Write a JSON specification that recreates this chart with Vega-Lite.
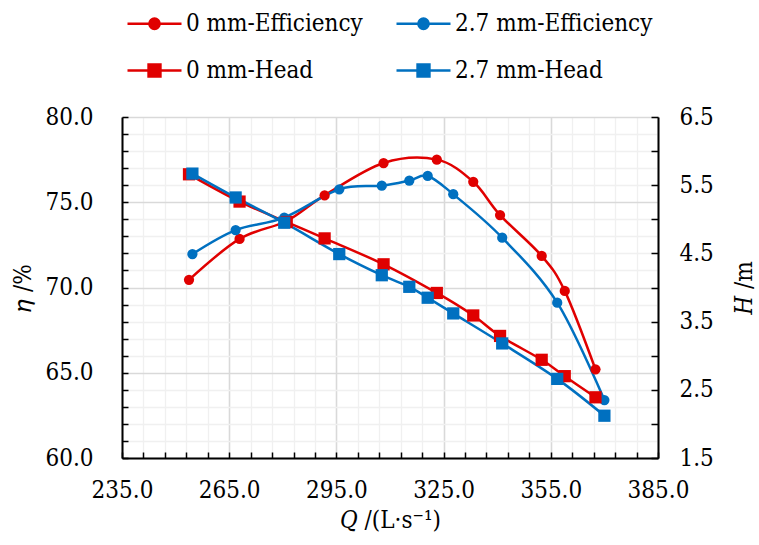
{
  "$schema": "https://vega.github.io/schema/vega-lite/v6.json",
  "autosize": "none",
  "width": 536,
  "height": 341,
  "padding": {"left": 122, "top": 117, "right": 101, "bottom": 87},
  "background": "white",
  "config": {
    "view": {"stroke": null},
    "font": "DejaVu Serif Condensed, DejaVu Serif",
    "axis": {
      "labelFont": "DejaVu Serif Condensed, DejaVu Serif",
      "labelFontSize": 24,
      "labelColor": "black",
      "titleFont": "DejaVu Serif Condensed, DejaVu Serif",
      "titleFontSize": 24,
      "titleFontWeight": "normal",
      "titleColor": "black",
      "domainColor": "black",
      "domainWidth": 2,
      "tickColor": "black",
      "tickWidth": 1.5
    }
  },
  "data": {
    "values": [
      {"Q": 253.75, "series": "0 mm-Efficiency", "kind": "Efficiency", "value": 70.45},
      {"Q": 267.9, "series": "0 mm-Efficiency", "kind": "Efficiency", "value": 72.85},
      {"Q": 281.1, "series": "0 mm-Efficiency", "kind": "Efficiency", "value": 73.9},
      {"Q": 291.7, "series": "0 mm-Efficiency", "kind": "Efficiency", "value": 75.4},
      {"Q": 308.2, "series": "0 mm-Efficiency", "kind": "Efficiency", "value": 77.3},
      {"Q": 323.1, "series": "0 mm-Efficiency", "kind": "Efficiency", "value": 77.5},
      {"Q": 333.3, "series": "0 mm-Efficiency", "kind": "Efficiency", "value": 76.2},
      {"Q": 340.8, "series": "0 mm-Efficiency", "kind": "Efficiency", "value": 74.25},
      {"Q": 352.45, "series": "0 mm-Efficiency", "kind": "Efficiency", "value": 71.85},
      {"Q": 358.9, "series": "0 mm-Efficiency", "kind": "Efficiency", "value": 69.8},
      {"Q": 367.5, "series": "0 mm-Efficiency", "kind": "Efficiency", "value": 65.2},
      {"Q": 254.7, "series": "2.7 mm-Efficiency", "kind": "Efficiency", "value": 71.96},
      {"Q": 266.8, "series": "2.7 mm-Efficiency", "kind": "Efficiency", "value": 73.37},
      {"Q": 280.4, "series": "2.7 mm-Efficiency", "kind": "Efficiency", "value": 74.1},
      {"Q": 295.8, "series": "2.7 mm-Efficiency", "kind": "Efficiency", "value": 75.76},
      {"Q": 307.7, "series": "2.7 mm-Efficiency", "kind": "Efficiency", "value": 75.97},
      {"Q": 315.4, "series": "2.7 mm-Efficiency", "kind": "Efficiency", "value": 76.27},
      {"Q": 320.55, "series": "2.7 mm-Efficiency", "kind": "Efficiency", "value": 76.54},
      {"Q": 327.7, "series": "2.7 mm-Efficiency", "kind": "Efficiency", "value": 75.47},
      {"Q": 341.4, "series": "2.7 mm-Efficiency", "kind": "Efficiency", "value": 72.92},
      {"Q": 356.8, "series": "2.7 mm-Efficiency", "kind": "Efficiency", "value": 69.11},
      {"Q": 370.0, "series": "2.7 mm-Efficiency", "kind": "Efficiency", "value": 63.4},
      {"Q": 253.75, "series": "0 mm-Head", "kind": "Head", "value": 5.66},
      {"Q": 267.9, "series": "0 mm-Head", "kind": "Head", "value": 5.26},
      {"Q": 281.1, "series": "0 mm-Head", "kind": "Head", "value": 4.96},
      {"Q": 291.7, "series": "0 mm-Head", "kind": "Head", "value": 4.72},
      {"Q": 308.2, "series": "0 mm-Head", "kind": "Head", "value": 4.34},
      {"Q": 323.1, "series": "0 mm-Head", "kind": "Head", "value": 3.92},
      {"Q": 333.3, "series": "0 mm-Head", "kind": "Head", "value": 3.59},
      {"Q": 340.8, "series": "0 mm-Head", "kind": "Head", "value": 3.29},
      {"Q": 352.45, "series": "0 mm-Head", "kind": "Head", "value": 2.94},
      {"Q": 358.9, "series": "0 mm-Head", "kind": "Head", "value": 2.70},
      {"Q": 367.5, "series": "0 mm-Head", "kind": "Head", "value": 2.39},
      {"Q": 254.7, "series": "2.7 mm-Head", "kind": "Head", "value": 5.67},
      {"Q": 266.8, "series": "2.7 mm-Head", "kind": "Head", "value": 5.32},
      {"Q": 280.4, "series": "2.7 mm-Head", "kind": "Head", "value": 4.95},
      {"Q": 295.8, "series": "2.7 mm-Head", "kind": "Head", "value": 4.49},
      {"Q": 307.7, "series": "2.7 mm-Head", "kind": "Head", "value": 4.18},
      {"Q": 315.4, "series": "2.7 mm-Head", "kind": "Head", "value": 4.01},
      {"Q": 320.55, "series": "2.7 mm-Head", "kind": "Head", "value": 3.85},
      {"Q": 327.7, "series": "2.7 mm-Head", "kind": "Head", "value": 3.62},
      {"Q": 341.4, "series": "2.7 mm-Head", "kind": "Head", "value": 3.18},
      {"Q": 356.8, "series": "2.7 mm-Head", "kind": "Head", "value": 2.66},
      {"Q": 370.0, "series": "2.7 mm-Head", "kind": "Head", "value": 2.12}
    ]
  },
  "encoding": {
    "x": {
      "field": "Q",
      "type": "quantitative",
      "scale": {"domain": [235, 385], "nice": false, "zero": false},
      "axis": {
        "title": "𝑄 /(L·s⁻¹)",
        "values": [235,241,247,253,259,265,271,277,283,289,295,301,307,313,319,325,331,337,343,349,355,361,367,373,379,385],
        "labelExpr": "(datum.value-235)%30===0 ? format(datum.value,'.1f') : ''",
        "grid": true,
        "gridColor": {"condition": {"test": "(datum.value-235)%30===0", "value": "#D9D9D9"}, "value": "#F0F0F0"},
        "gridWidth": {"condition": {"test": "(datum.value-235)%30===0", "value": 1.6}, "value": 1.3},
        "tickSize": -6,
        "labelPadding": 26,
        "labelFlush": false,
        "titlePadding": 6
      }
    },
    "color": {
      "field": "series",
      "type": "nominal",
      "scale": {
        "domain": ["0 mm-Efficiency", "2.7 mm-Efficiency", "0 mm-Head", "2.7 mm-Head"],
        "range": ["#E00000", "#0070C0", "#E00000", "#0070C0"]
      },
      "legend": {
        "orient": "none",
        "direction": "horizontal",
        "legendX": 4,
        "legendY": -122,
        "title": null,
        "columns": 2,
        "padding": 0,
        "labelFont": "DejaVu Serif Condensed, DejaVu Serif",
        "labelFontSize": 24,
        "labelColor": "black",
        "labelLimit": 0,
        "labelOffset": 3,
        "symbolSize": 2916,
        "symbolStrokeWidth": 2.5,
        "columnPadding": 28,
        "rowPadding": 6,
        "encode": {
          "symbols": {
            "update": {
              "shape": {"signal": "indexof(datum.value,'Head')>=0 ? 'M-1,0L1,0M-0.22,-0.22L0.22,-0.22L0.22,0.22L-0.22,0.22Z' : 'M-1,0L1,0M0.19,0A0.19,0.19,0,1,1,-0.19,0A0.19,0.19,0,1,1,0.19,0Z'"},
              "fill": {"scale": "color", "field": "value"},
              "stroke": {"scale": "color", "field": "value"},
              "strokeWidth": {"value": 2.5},
              "opacity": {"value": 1},
              "fillOpacity": {"value": 1},
              "strokeOpacity": {"value": 1}
            }
          }
        }
      }
    }
  },
  "layer": [
    {
      "transform": [{"filter": "datum.kind === 'Efficiency'"}],
      "encoding": {
        "y": {
          "field": "value",
          "type": "quantitative",
          "scale": {"domain": [60, 80], "nice": false, "zero": false},
          "axis": {
            "title": "𝜂 /%",
            "orient": "left",
            "values": [60,61,62,63,64,65,66,67,68,69,70,71,72,73,74,75,76,77,78,79,80],
            "labelExpr": "datum.value%5===0 ? format(datum.value,'.1f') : ''",
            "grid": true,
            "gridColor": {"condition": {"test": "datum.value%5===0", "value": "#D9D9D9"}, "value": "#F0F0F0"},
            "gridWidth": {"condition": {"test": "datum.value%5===0", "value": 1.6}, "value": 1.3},
            "tickSize": -6,
            "labelPadding": 35,
            "labelFlush": false,
            "titlePadding": 9
          }
        }
      },
      "layer": [
        {"mark": {"type": "line", "interpolate": "cardinal", "tension": 0, "strokeWidth": 2.5}},
        {"mark": {"type": "point", "shape": "circle", "filled": true, "opacity": 1, "size": 105}}
      ]
    },
    {
      "transform": [{"filter": "datum.kind === 'Head'"}],
      "encoding": {
        "y": {
          "field": "value",
          "type": "quantitative",
          "scale": {"domain": [1.5, 6.5], "nice": false, "zero": false},
          "axis": {
            "title": "𝐻 /m",
            "orient": "right",
            "titleAngle": -90,
            "values": [1.5,2,2.5,3,3.5,4,4.5,5,5.5,6,6.5],
            "labelExpr": "(datum.value*2)%2===1 ? format(datum.value,'.1f') : ''",
            "grid": false,
            "tickSize": -7,
            "labelPadding": 28,
            "labelFlush": false,
            "titlePadding": 43
          }
        }
      },
      "layer": [
        {"mark": {"type": "line", "interpolate": "cardinal", "tension": 0, "strokeWidth": 2.5}},
        {"mark": {"type": "point", "shape": "square", "filled": true, "opacity": 1, "size": 150}}
      ]
    }
  ],
  "resolve": {"scale": {"y": "independent"}}
}
